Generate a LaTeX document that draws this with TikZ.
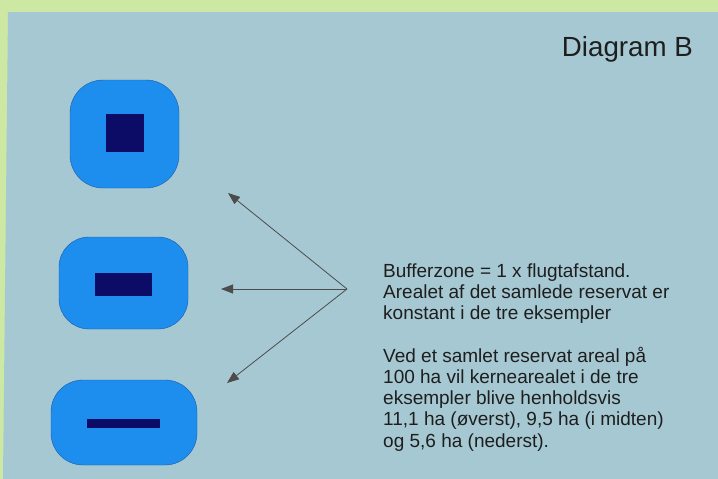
\documentclass[tikz,border=0pt]{standalone}
\usepackage{fontspec}
\setmainfont{Liberation Sans}
\usetikzlibrary{arrows.meta}
\definecolor{paper}{RGB}{204,232,162}
\definecolor{panel}{RGB}{166,200,211}
\definecolor{zoneblue}{RGB}{30,142,238}
\definecolor{zoneedge}{RGB}{25,90,170}
\definecolor{corenavy}{RGB}{12,12,102}
\definecolor{ink}{RGB}{30,30,30}

\begin{document}
\begin{tikzpicture}[x=1pt, y=-1pt,
  zone/.style={draw=zoneedge, fill=zoneblue, rounded corners=30pt, inner sep=0pt},
  core/.style={fill=corenavy, inner sep=0pt},
  pointer/.style={-{Triangle[length=12pt,width=9pt]}, draw=black!70, line width=0.8pt},
  note/.style={font=\fontsize{19}{21.2}\selectfont, text=ink, align=left, inner sep=0pt, anchor=base west}]
% background panel
\useasboundingbox (0,0) rectangle (718,479);
\fill[paper] (0,0) rectangle (718,479);
\fill[panel] (8,12) -- (718,12) -- (718,479) -- (3,479) -- cycle;
\node[font=\fontsize{27.7}{30}\selectfont, text=ink, anchor=base east, inner sep=0pt] (title) at (693,56.5) {Diagram B};

% three reserves: buffer zone around core area
\node[zone, minimum width=109pt, minimum height=108pt, rounded corners=33pt] (zonetop) at (124.5,134) {};
\node[core, minimum width=38pt, minimum height=38pt] (coretop) at (125,133) {};
\node[zone, minimum width=129pt, minimum height=92pt] (zonemid) at (123.5,283) {};
\node[core, minimum width=57pt, minimum height=23pt] (coremid) at (123.5,284.5) {};
\node[zone, minimum width=146pt, minimum height=85pt, rounded corners=32pt] (zonelow) at (124,422.5) {};
\node[core, minimum width=73pt, minimum height=9pt] (corelow) at (123.5,423.5) {};

% pointers from the text
\coordinate (fork) at (347,289);
\coordinate (tiptop) at (228,193);
\coordinate (tipmid) at (221,289);
\coordinate (tiplow) at (227,383);
\draw[pointer] (fork) -- (tiptop);
\draw[pointer] (fork) -- (tipmid);
\draw[pointer] (fork) -- (tiplow);

% base anchor sits on the last line
\node[note] (buffer) at (383,319.5) {Bufferzone = 1 x flugtafstand.\\Arealet af det samlede reservat er\\konstant i de tre eksempler};
\node[note] (area) at (383,447) {Ved et samlet reservat areal på\\100 ha vil kernearealet i de tre\\eksempler blive henholdsvis\\11,1 ha (øverst), 9,5 ha (i midten)\\og 5,6 ha (nederst).};
\end{tikzpicture}
\end{document}
